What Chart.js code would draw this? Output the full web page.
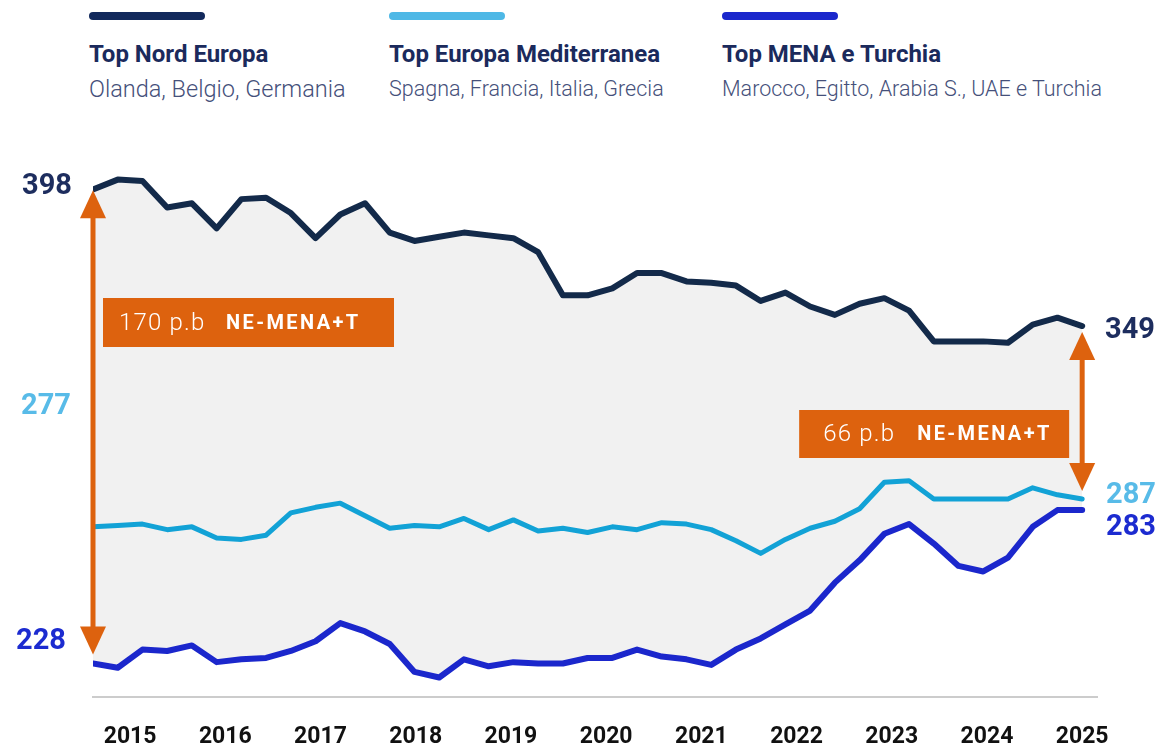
<!DOCTYPE html>
<html>
<head>
<meta charset="utf-8">
<script src="https://cdn.jsdelivr.net/npm/chart.js@4"></script>
<style>
  html, body { margin: 0; padding: 0; background: #fff; }
  #wrap { position: relative; width: 1161px; height: 746px; font-family: Roboto, "Noto Sans", sans-serif; }
  #legend { position: absolute; left: 0; top: 0; width: 1161px; height: 120px; }
  .item { position: absolute; top: 12px; }
  .bar { width: 116px; height: 8px; border-radius: 4px; }
  .title { margin-top: 20px; font-size: 24px; line-height: 28px; font-weight: 700; color: #1b2a5c; white-space: nowrap; }
  .sub { margin-top: 7px; line-height: 28px; font-weight: 300; color: #45507a; white-space: nowrap; }
  canvas { position: absolute; left: 0; top: 0; }
</style>
</head>
<body>
<div id="wrap">
  <div id="legend"></div>
  <canvas id="chart" width="1161" height="746"></canvas>
</div>
<script>
// quarterly, 2015 Q1 -> 2025 Q1
const quarters = Array.from({ length: 41 }, (_, i) => i);
const yearLabels = ["2015", "2016", "2017", "2018", "2019", "2020", "2021", "2022", "2023", "2024", "2025"];

const nordEuropa = [
  398, 401.5, 401, 391.5, 393, 384, 394.5, 395, 389.5, 380.5, 389,
  393, 382.5, 379.5, 381, 382.5, 381.5, 380.5, 375.5, 360, 360,
  362.5, 368, 368, 365, 364.5, 363.5, 358, 361, 356, 353,
  357, 359, 354.5, 343.5, 343.5, 343.5, 343, 349.5, 352, 349
];
const europaMed = [
  277, 277.5, 278, 276, 277, 273, 272.5, 274, 282, 284, 285.5,
  281, 276.5, 277.5, 277, 280, 276, 279.5, 275.5, 276.5, 275,
  277, 276, 278.5, 278, 276, 272, 267.5, 272.5, 276.5, 279,
  283.5, 293, 293.5, 287, 287, 287, 287, 291, 288.5, 287
];
const menaTurchia = [
  228, 226.5, 233, 232.5, 234.5, 228.5, 229.5, 230, 232.5, 236, 242.5,
  239.5, 235, 225, 223, 229.5, 227, 228.5, 228, 228, 230,
  230, 233, 230.5, 229.5, 227.5, 233, 237, 242, 247, 257,
  265, 274.5, 278, 271, 263, 261, 266, 277, 283, 283
];

const seriesNames = ["Top Nord Europa", "Top Europa Mediterranea", "Top MENA e Turchia"];
const seriesCountries = [
  "Olanda, Belgio, Germania",
  "Spagna, Francia, Italia, Grecia",
  "Marocco, Egitto, Arabia S., UAE e Turchia"
];
const lineColors = ["#132a4a", "#12a2d6", "#1b27cc"];
const legendColors = ["#12295c", "#4eb8e6", "#1b27cc"];
const labelColors = ["#1d2d5e", "#58bbe8", "#1c2bd0"];
const gapLabel = "NE-MENA+T";
const orange = "#dd620e";

// legend
const legendX = [89, 389, 722];
const subSizes = [23.5, 21.5, 21.5];
const legend = document.getElementById("legend");
seriesNames.forEach((name, i) => {
  const el = document.createElement("div");
  el.className = "item";
  el.style.left = legendX[i] + "px";
  el.innerHTML = `<div class="bar" style="background:${legendColors[i]}"></div>
    <div class="title">${name}</div>
    <div class="sub" style="font-size:${subSizes[i]}px">${seriesCountries[i]}</div>`;
  legend.appendChild(el);
});

function drawArrow(ctx, x, yTop, yBottom) {
  const head = 28, half = 13;
  ctx.save();
  ctx.fillStyle = orange;
  ctx.strokeStyle = orange;
  ctx.lineWidth = 5;
  ctx.beginPath();
  ctx.moveTo(x, yTop + head - 2);
  ctx.lineTo(x, yBottom - head + 2);
  ctx.stroke();
  ctx.beginPath();
  ctx.moveTo(x, yTop);
  ctx.lineTo(x - half, yTop + head);
  ctx.lineTo(x + half, yTop + head);
  ctx.closePath();
  ctx.fill();
  ctx.beginPath();
  ctx.moveTo(x, yBottom);
  ctx.lineTo(x - half, yBottom - head);
  ctx.lineTo(x + half, yBottom - head);
  ctx.closePath();
  ctx.fill();
  ctx.restore();
}

function drawGapBox(ctx, left, top, w, h, gap, numOffset, tagOffset) {
  ctx.save();
  ctx.fillStyle = orange;
  ctx.fillRect(left, top, w, h);
  ctx.fillStyle = "#fff";
  ctx.textBaseline = "middle";
  ctx.textAlign = "left";
  ctx.font = "300 24px Roboto";
  ctx.letterSpacing = "1.2px";
  ctx.fillText(gap + " p.b", left + numOffset, top + h / 2 + 1);
  ctx.font = "700 20px Roboto";
  ctx.letterSpacing = "2.4px";
  ctx.fillText(gapLabel, left + tagOffset, top + h / 2 + 1);
  ctx.restore();
}

function valueLabel(ctx, text, x, y, color, align) {
  ctx.save();
  ctx.font = "700 29px Roboto";
  ctx.fillStyle = color;
  ctx.textAlign = align;
  ctx.textBaseline = "middle";
  ctx.fillText(text, x, y + 5);
  ctx.restore();
}

const annotations = {
  id: "annotations",
  afterDatasetsDraw(chart) {
    const { ctx, scales: { x, y } } = chart;
    const first = 0, last = quarters.length - 1;
    const x0 = x.getPixelForValue(first);
    const x1 = x.getPixelForValue(last);

    // left gap: Nord vs MENA at start
    drawArrow(ctx, x0, y.getPixelForValue(nordEuropa[first]) + 1, y.getPixelForValue(menaTurchia[first]) - 9);
    drawGapBox(ctx, x0 + 10, 298, 291, 49, Math.round(nordEuropa[first] - menaTurchia[first]), 16, 123);

    // right gap: Nord vs MENA at end
    drawArrow(ctx, x1, y.getPixelForValue(nordEuropa[last]) + 6, y.getPixelForValue(europaMed[last]) - 8);
    drawGapBox(ctx, x1 - 283, 410, 270, 48, Math.round(nordEuropa[last] - menaTurchia[last]), 24, 118);

    // start values
    valueLabel(ctx, String(nordEuropa[first]), 72, y.getPixelForValue(nordEuropa[first]) - 8, labelColors[0], "right");
    valueLabel(ctx, String(europaMed[first]), 71, 402, labelColors[1], "right");
    valueLabel(ctx, String(menaTurchia[first]), 66, y.getPixelForValue(menaTurchia[first]) - 27, labelColors[2], "right");

    // end values
    valueLabel(ctx, String(nordEuropa[last]), 1105, y.getPixelForValue(nordEuropa[last]), labelColors[0], "left");
    valueLabel(ctx, String(europaMed[last]), 1106, y.getPixelForValue(europaMed[last]) - 8, labelColors[1], "left");
    valueLabel(ctx, String(menaTurchia[last]), 1106, y.getPixelForValue(menaTurchia[last]) + 13, labelColors[2], "left");
  }
};

const toPoints = (arr) => arr.map((v, i) => ({ x: quarters[i], y: v }));

new Chart(document.getElementById("chart"), {
  type: "line",
  data: {
    datasets: [
      {
        label: seriesNames[0],
        data: toPoints(nordEuropa),
        borderColor: lineColors[0],
        borderWidth: 6,
        backgroundColor: "#f1f1f1",
        fill: "+2",
        pointRadius: 0,
        tension: 0,
        borderJoinStyle: "round",
        borderCapStyle: "round"
      },
      {
        label: seriesNames[1],
        data: toPoints(europaMed),
        borderColor: lineColors[1],
        borderWidth: 5,
        fill: false,
        pointRadius: 0,
        tension: 0,
        borderJoinStyle: "round",
        borderCapStyle: "round"
      },
      {
        label: seriesNames[2],
        data: toPoints(menaTurchia),
        borderColor: lineColors[2],
        borderWidth: 6,
        fill: false,
        pointRadius: 0,
        tension: 0,
        borderJoinStyle: "round",
        borderCapStyle: "round"
      }
    ]
  },
  options: {
    responsive: false,
    animation: false,
    layout: { padding: { left: 93, right: 64, top: 128, bottom: 0 } },
    plugins: {
      legend: { display: false },
      tooltip: { enabled: false },
      filler: { drawTime: "beforeDatasetsDraw" }
    },
    scales: {
      x: {
        type: "linear",
        min: 0,
        max: 40.6,
        grid: { display: false, drawTicks: false },
        border: { display: true, color: "#cccccc", width: 2 },
        afterBuildTicks: (scale) => {
          const a = 1.5, b = quarters.length - 1;
          scale.ticks = yearLabels.map((_, k) => ({ value: a + k * (b - a) / (yearLabels.length - 1) }));
        },
        afterFit: (scale) => { scale.height = 49; },
        ticks: {
          autoSkip: false,
          maxRotation: 0,
          padding: 26,
          color: "#111111",
          font: { family: "Roboto", size: 23, weight: "700" },
          callback: (value, index) => yearLabels[index]
        }
      },
      y: {
        display: false,
        min: 216,
        max: 420
      }
    }
  },
  plugins: [annotations]
});
</script>
</body>
</html>
